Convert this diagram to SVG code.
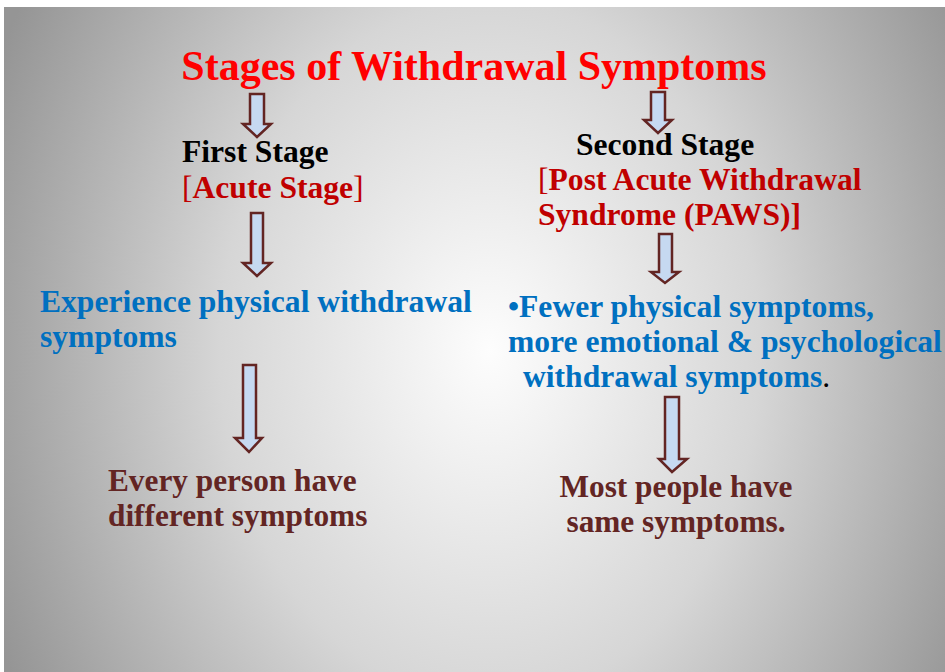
<svg xmlns="http://www.w3.org/2000/svg" width="945" height="672" viewBox="0 0 945 672">
<defs>
<radialGradient id="bg" gradientUnits="userSpaceOnUse" cx="0" cy="0" r="1" gradientTransform="translate(490 350) scale(540 700)">
<stop offset="0" stop-color="#fdfdfd"/>
<stop offset="0.5" stop-color="#d6d6d6"/>
<stop offset="1" stop-color="#959595"/>
</radialGradient>
<style>
text{font-family:"Liberation Serif","Times New Roman",serif;font-weight:bold;font-size:31.6px}
.title{font-size:42px;fill:#ff0000}
.blk{fill:#000000}
.red{fill:#c00000}
.blue{fill:#0070c0}
.brown{fill:#632523;font-size:31.3px}
.reg{font-weight:normal}
.arrow{fill:#c6d9f1;stroke:#632523;stroke-width:2.5;stroke-linejoin:miter}
</style>
</defs>
<rect x="0" y="0" width="945" height="672" fill="#ffffff"/>
<rect x="4" y="7" width="941" height="665" fill="url(#bg)"/>
<g id="title"><text class="title" x="474" y="80" text-anchor="middle">Stages of Withdrawal Symptoms</text></g>
<g id="first-stage">
<text class="blk" x="182" y="162">First Stage</text>
<text class="red" x="182" y="198"><tspan class="reg">[</tspan>Acute Stage<tspan class="reg">]</tspan></text>
</g>
<g id="second-stage">
<text class="blk" x="576" y="155">Second Stage</text>
<text class="red" x="538" y="190"><tspan class="reg">[</tspan>Post Acute Withdrawal</text>
<text class="red" x="538" y="225">Syndrome (PAWS)]</text>
</g>
<g id="physical">
<text class="blue" x="40" y="312">Experience physical withdrawal</text>
<text class="blue" x="40" y="347">symptoms</text>
</g>
<g id="emotional">
<text class="blue" x="508" y="317">•Fewer physical symptoms,</text>
<text class="blue" x="508" y="352">more emotional &amp; psychological</text>
<text class="blue" x="523" y="387">withdrawal symptoms<tspan class="blk reg">.</tspan></text>
</g>
<g id="different">
<text class="brown" x="108" y="491">Every person have</text>
<text class="brown" x="108" y="526">different symptoms</text>
</g>
<g id="same">
<text class="brown" x="676" y="497" text-anchor="middle">Most people have</text>
<text class="brown" x="676" y="532" text-anchor="middle">same symptoms.</text>
</g>
<g id="connectors">
<polygon class="arrow" points="250,94 264,94 264,124 271,124 257,137 243,124 250,124"/>
<polygon class="arrow" points="651,92 665,92 665,120 672,120 658,133 644,120 651,120"/>
<polygon class="arrow" points="251,213 263,213 263,263 271,263 257,276 243,263 251,263"/>
<polygon class="arrow" points="659,234 672,234 672,272 679,272 665,283 651,272 659,272"/>
<polygon class="arrow" points="243,365 256,365 256,438 262,438 249,452 235,438 243,438"/>
<polygon class="arrow" points="665,397 679,397 679,459 687,459 672,472 659,459 665,459"/>
</g>
</svg>
